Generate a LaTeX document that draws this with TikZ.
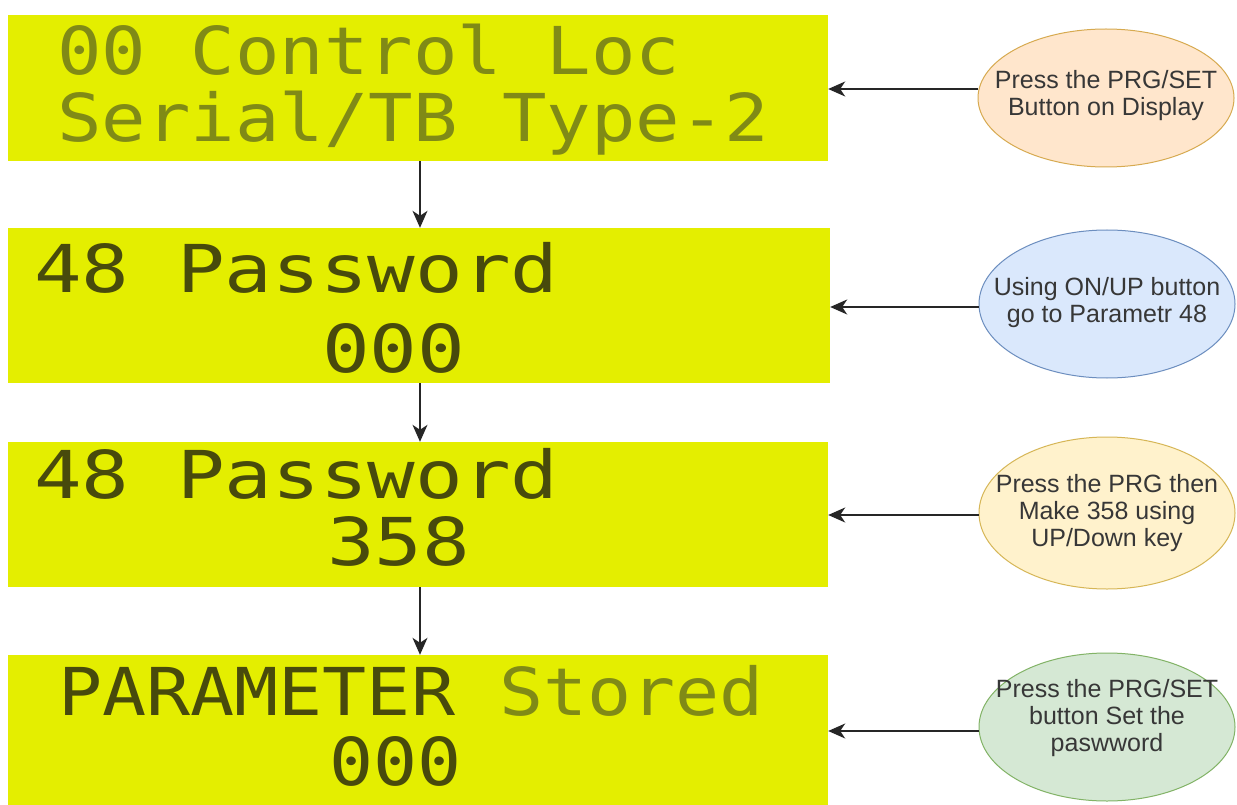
\documentclass[tikz,border=0pt]{standalone}
\usepackage{fontspec}
\setmainfont{Liberation Sans}
\newfontfamily\lcdA[FakeStretch=1.12]{DejaVu Sans Mono}
\newfontfamily\lcdB[FakeStretch=1.2]{DejaVu Sans Mono}
\newfontfamily\lcdC[FakeStretch=1.11]{DejaVu Sans Mono}
\usetikzlibrary{arrows.meta,shapes.geometric}
\definecolor{lcdbg}{RGB}{228,238,0}
\definecolor{lcddark}{RGB}{72,74,12}
\definecolor{lcdfade}{RGB}{128,138,22}
\definecolor{txtgray}{RGB}{55,55,55}
\definecolor{peachF}{RGB}{255,230,204}\definecolor{peachD}{RGB}{215,170,80}
\definecolor{blueF}{RGB}{218,232,252}\definecolor{blueD}{RGB}{108,142,191}
\definecolor{yelF}{RGB}{255,242,204}\definecolor{yelD}{RGB}{214,182,86}
\definecolor{greenF}{RGB}{213,232,212}\definecolor{greenD}{RGB}{130,179,102}
\tikzset{
  panel/.style={draw=none, fill=lcdbg, inner sep=0pt, rectangle},
  lcdtxt/.style={inner sep=0pt, anchor=base west, text=lcddark},
  lcdone/.style={lcdtxt, font=\lcdA\fontsize{66}{70}\selectfont},
  lcdtwo/.style={lcdtxt, font=\lcdB\fontsize{66}{70}\selectfont},
  lcdfour/.style={lcdtxt, font=\lcdC\fontsize{66}{70}\selectfont},
  bubble/.style={ellipse, draw, line width=1pt, inner sep=0pt, minimum width=256pt},
  btext/.style={inner sep=0pt, align=center, text=txtgray, font=\fontsize{25}{27}\selectfont},
  arr/.style={-{Stealth[length=17pt,width=15pt,inset=5pt]}, line width=1.4pt, draw=black!85}
}
\begin{document}
\begin{tikzpicture}[x=1pt,y=-1pt]
\useasboundingbox[fill=white] (0,0) rectangle (1237,805);
% LCD panels
\node[panel, minimum width=820pt, minimum height=146pt] (p1) at (418,88) {};
\node[panel, minimum width=822pt, minimum height=155pt] (p2) at (419,305.5) {};
\node[panel, minimum width=820pt, minimum height=145pt] (p3) at (418,514.5) {};
\node[panel, minimum width=820pt, minimum height=150pt] (p4) at (418,730) {};
% LCD texts
\node[lcdone, text=lcdfade] (t1a) at (57,75) {00 Control Loc};
\node[lcdone, text=lcdfade] (t1b) at (57,142) {Serial/TB Type-2};
\node[lcdtwo] (t2a) at (34,292) {48 Password};
\node[lcdtwo] (t2b) at (322,372) {000};
\node[lcdtwo] (t3a) at (34,498) {48 Password};
\node[lcdtwo] (t3b) at (327,565) {358};
\node[lcdfour] (t4a) at (58,715) {PARAMETER \textcolor{lcdfade}{Stored}};
\node[lcdfour] (t4b) at (329,785) {000};
% bubbles
\node[bubble, fill=peachF, draw=peachD, minimum height=138pt] (e1) at (1106,98) {};
\node[btext] (l1) at (1106,96) {Press the PRG/SET\\Button on Display};
\node[bubble, fill=blueF, draw=blueD, minimum height=148pt] (e2) at (1107,304) {};
\node[btext] (l2) at (1107,303) {Using ON/UP button\\go to Parametr 48};
\node[bubble, fill=yelF, draw=yelD, minimum height=152pt] (e3) at (1107,513) {};
\node[btext] (l3) at (1107,513) {Press the PRG then\\Make 358 using\\UP/Down key};
\node[bubble, fill=greenF, draw=greenD, minimum height=148pt] (e4) at (1107,727) {};
\node[btext] (l4) at (1107,718) {Press the PRG/SET\\button Set the\\paswword};
% horizontal arrows
\draw[arr] ([yshift=9pt]e1.west) -- ([yshift=9pt]e1.west -| p1.east);
\draw[arr] ([yshift=-3pt]e2.west) -- ([yshift=-3pt]e2.west -| p2.east);
\draw[arr] ([yshift=-2pt]e3.west) -- ([yshift=-2pt]e3.west -| p3.east);
\draw[arr] ([yshift=-4pt]e4.west) -- ([yshift=-4pt]e4.west -| p4.east);
% vertical arrows
\draw[arr] ([xshift=2pt]p1.south) -- ([xshift=2pt]p1.south |- p2.north);
\draw[arr] ([xshift=1pt]p2.south) -- ([xshift=1pt]p2.south |- p3.north);
\draw[arr] ([xshift=2pt]p3.south) -- ([xshift=2pt]p3.south |- p4.north);
\end{tikzpicture}
\end{document}
